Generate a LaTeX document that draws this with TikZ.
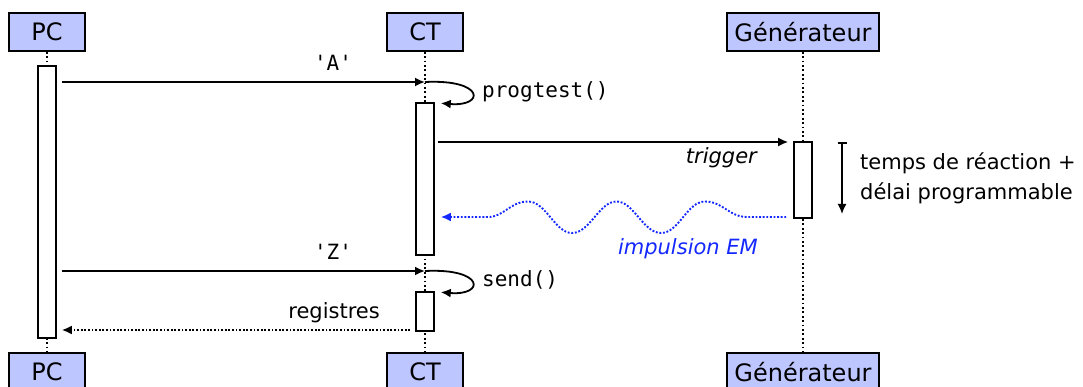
\documentclass[tikz,border=0pt]{standalone}
\usepackage{fontspec}
\setmainfont{DejaVu Sans}
\setmonofont{DejaVu Sans Mono}
\usetikzlibrary{arrows.meta,calc}
\definecolor{headblue}{RGB}{190,198,255}
\definecolor{emblue}{RGB}{20,40,255}
\tikzset{
  head/.style={draw, line width=1.6pt, fill=headblue, minimum width=76pt, minimum height=38pt, inner xsep=7.5pt, font=\fontsize{24}{28}\selectfont},
  act/.style={draw, line width=1.6pt, fill=white, minimum width=18pt, inner sep=0pt},
  lifeline/.style={line width=1.8pt, dash pattern=on 1.8pt off 2.6pt},
  tip/.tip={Latex[length=10pt,width=9pt]},
  msg/.style={line width=1.8pt, -tip},
  retmsg/.style={line width=1.9pt, dash pattern=on 1.9pt off 1.7pt, -tip},
  lbl/.style={font=\fontsize{21}{30}\selectfont, inner sep=0pt},
  mlbl/.style={font=\ttfamily\fontsize{21}{30}\selectfont, inner sep=0pt},
}
\begin{document}
\begin{tikzpicture}[x=1pt,y=-1pt]
\useasboundingbox (0,0) rectangle (1083,387);
% heads and feet
\node[head] (pchead) at (47,32) {PC};
\node[head] (cthead) at (425,32) {CT};
\node[head] (genhead) at (803,32) {Générateur};
\node[head] (pcfoot) at (47,372) {PC};
\node[head] (ctfoot) at (425,372) {CT};
\node[head] (genfoot) at (803,372) {Générateur};
% lifelines
\draw[lifeline] (pchead.south) -- (pcfoot.north);
\draw[lifeline] (cthead.south) -- (ctfoot.north);
\draw[lifeline] (genhead.south) -- (genfoot.north);
% activations
\node[act, minimum height=272pt] (pcact) at (47,202) {};
\node[act, minimum height=152pt] (ctact1) at (425,179) {};
\node[act, minimum height=39pt] (ctact2) at (425,311.5) {};
\node[act, minimum height=76pt] (genact) at (803,180) {};
% y levels
\coordinate (aY) at (0,82);
\coordinate (zY) at (0,271);
\coordinate (tY) at (0,142);
\coordinate (wY) at (0,217);
\coordinate (rY) at (0,330);
% 'A'
\draw[msg, shorten <=5pt] (pcact.east |- aY) -- (cthead.south |- aY);
\node[mlbl] (alabel) at (333,63) {'A'};
% progtest()
\coordinate (pgend) at ($(ctact1.north east)+(6,1)$);
\draw[msg] (cthead.south |- aY) .. controls (485,79) and (485,107) .. (pgend);
\node[mlbl, anchor=west] (pglabel) at (482,92) {progtest()};
% trigger
\draw[msg, shorten <=3pt, shorten >=5pt] (ctact1.east |- tY) -- (genact.west |- tY);
\node[lbl, anchor=east, font=\itshape\fontsize{21}{30}\selectfont] (trlabel) at (757,158) {trigger};
% EM impulse
\coordinate (w0) at ($(genact.west |- wY)+(-7,0)$);
\coordinate (w7) at ($(ctact1.east |- wY)+(6,0)$);
\draw[retmsg, emblue]
  (w0) -- (747,217)
  .. controls (729,217) and (723,201.5) .. (705,201.5)
  .. controls (687,201.5) and (679,233) .. (661,233)
  .. controls (643,233) and (634,201.5) .. (616.5,201.5)
  .. controls (599,201.5) and (590,233) .. (572,233)
  .. controls (555,233) and (546,201.5) .. (528,201.5)
  .. controls (510,201.5) and (504,217) .. (488,217)
  -- (w7);
\node[lbl, emblue, anchor=east, font=\itshape\fontsize{21}{30}\selectfont] (emlabel) at (758,249) {impulsion EM};
% timing
\coordinate (ttop) at (842,142);
\coordinate (tbot) at (842,214);
\draw[line width=1.6pt, {Bar[width=9pt]}-{Latex[length=10pt,width=9pt]}] (ttop) -- (tbot);
\node[lbl, anchor=west, align=left] (tlabel) at (860,178) {temps de réaction +\\délai programmable};
% 'Z'
\draw[msg, shorten <=5pt] (pcact.east |- zY) -- (cthead.south |- zY);
\node[mlbl] (zlabel) at (333,252) {'Z'};
% send()
\coordinate (sdend) at ($(ctact2.north east)+(6,1)$);
\draw[msg] (cthead.south |- zY) .. controls (485,268) and (485,296) .. (sdend);
\node[mlbl, anchor=west] (sdlabel) at (482,280) {send()};
% registres
\draw[retmsg, black, shorten <=5pt, shorten >=5pt] (ctact2.west |- rY) -- (pcact.east |- rY);
\node[lbl, anchor=east] (rglabel) at (380,313) {registres};
\end{tikzpicture}
\end{document}
